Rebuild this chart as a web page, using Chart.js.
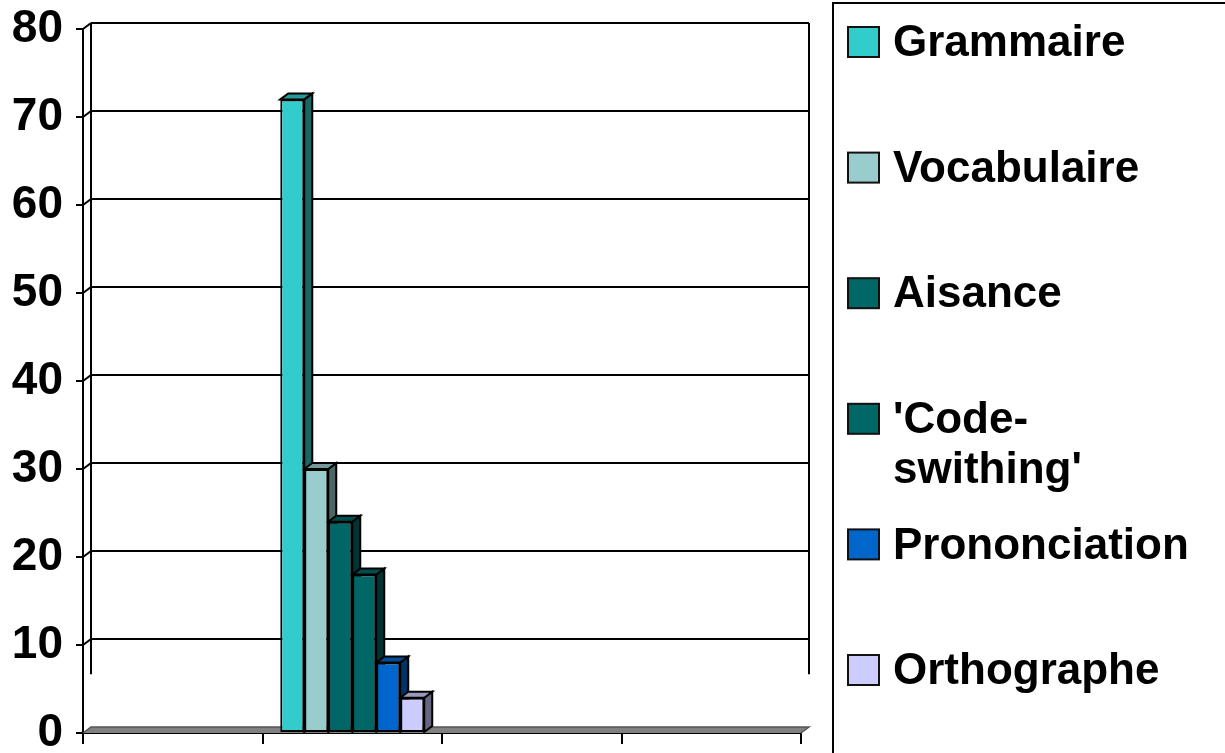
<!DOCTYPE html>
<html lang="fr">
<head>
<meta charset="utf-8">
<title>Difficultés</title>
<script src="https://cdn.jsdelivr.net/npm/chart.js@4/dist/chart.umd.min.js"></script>
<style>
  html, body { margin: 0; padding: 0; background: #fff; }
  canvas { display: block; }
</style>
</head>
<body>
<canvas id="chart" width="1225" height="753"></canvas>
<script>
// Category slots along the floor (only the second one carries values)
const categories = ['', '', '', ''];

// Series names and colours
const seriesLabels = ['Grammaire', 'Vocabulaire', 'Aisance', "'Code-swithing'", 'Prononciation', 'Orthographe'];
const seriesColors = ['#33CCCC', '#99CCCC', '#006666', '#006666', '#0066CC', '#CCCCFF'];

// Series values per category slot
const grammaire     = [null, 72, null, null];
const vocabulaire   = [null, 30, null, null];
const aisance       = [null, 24, null, null];
const codeSwithing  = [null, 18, null, null];
const prononciation = [null, 8,  null, null];
const orthographe   = [null, 4,  null, null];
const seriesValues  = [grammaire, vocabulaire, aisance, codeSwithing, prononciation, orthographe];

// Value axis
const yMin = 0, yMax = 80, yStep = 10;

const FONT = '"Liberation Sans", Arial, Helvetica, sans-serif';
const DX = 8, DY = 6;          // depth offset of the 3D box

function shade(hex, f) {
  const n = parseInt(hex.slice(1), 16);
  const r = Math.round(((n >> 16) & 255) * f);
  const g = Math.round(((n >> 8) & 255) * f);
  const b = Math.round((n & 255) * f);
  return `rgb(${r},${g},${b})`;
}

function poly(ctx, pts, fill, stroke, lw) {
  ctx.beginPath();
  ctx.moveTo(pts[0][0], pts[0][1]);
  for (let i = 1; i < pts.length; i++) ctx.lineTo(pts[i][0], pts[i][1]);
  ctx.closePath();
  if (fill) { ctx.fillStyle = fill; ctx.fill(); }
  if (stroke) { ctx.strokeStyle = stroke; ctx.lineWidth = lw; ctx.stroke(); }
}

// Back wall, floor and the 3D sides/tops of the columns
const box3d = {
  id: 'box3d',
  beforeDatasetsDraw(chart) {
    const { ctx, chartArea: a, scales: { y } } = chart;
    ctx.save();
    ctx.lineCap = 'butt';
    // gridlines on the back wall + short connectors from the front axis
    for (let v = yMin + yStep; v <= yMax; v += yStep) {
      const yy = y.getPixelForValue(v);
      ctx.strokeStyle = '#000';
      ctx.lineWidth = 2;
      ctx.beginPath();
      ctx.moveTo(a.left + DX, yy - DY);
      ctx.lineTo(a.right + DX, yy - DY);
      ctx.moveTo(a.left, yy);
      ctx.lineTo(a.left + DX, yy - DY);
      ctx.stroke();
    }
    // back wall edges
    const yTop = y.getPixelForValue(yMax) - DY;
    const yEnd = y.getPixelForValue(6) - DY;
    ctx.beginPath();
    ctx.moveTo(a.left + DX, yTop); ctx.lineTo(a.left + DX, yEnd);
    ctx.moveTo(a.right + DX, yTop); ctx.lineTo(a.right + DX, yEnd);
    ctx.stroke();
    // floor
    const y0 = y.getPixelForValue(yMin);
    poly(ctx, [[a.left, y0], [a.right, y0], [a.right + DX, y0 - DY], [a.left + DX, y0 - DY]], '#808080', null, 0);
    ctx.strokeStyle = '#555';
    ctx.lineWidth = 1.5;
    ctx.beginPath();
    ctx.moveTo(a.left, y0); ctx.lineTo(a.left + DX, y0 - DY);
    ctx.lineTo(a.right + DX, y0 - DY); ctx.lineTo(a.right, y0);
    ctx.stroke();
    // column sides and tops, in series order
    chart.data.datasets.forEach((ds, i) => {
      const meta = chart.getDatasetMeta(i);
      meta.data.forEach((el, j) => {
        if (ds.data[j] == null) return;
        const p = el.getProps(['x', 'y', 'base', 'width'], true);
        const l = p.x - p.width / 2, r = p.x + p.width / 2;
        poly(ctx, [[r, p.y], [r + DX, p.y - DY], [r + DX, p.base - DY], [r, p.base]], shade(ds.backgroundColor, 0.5), '#000', 2);
        poly(ctx, [[l, p.y], [l + DX, p.y - DY], [r + DX, p.y - DY], [r, p.y]], shade(ds.backgroundColor, 0.75), '#000', 2);
      });
    });
    ctx.restore();
  }
};

function wrapLabel(ctx, text, maxW) {
  if (ctx.measureText(text).width <= maxW) return [text];
  const k = text.indexOf('-');
  if (k < 0) return [text];
  return [text.slice(0, k + 1), text.slice(k + 1)];
}

// Legend box on the right
const sideLegend = {
  id: 'sideLegend',
  afterDraw(chart) {
    const { ctx } = chart;
    ctx.save();
    ctx.strokeStyle = '#000';
    ctx.lineWidth = 2;
    ctx.strokeRect(833, 3, 500, 800);
    ctx.font = `bold 44px ${FONT}`;
    ctx.textBaseline = 'middle';
    ctx.textAlign = 'left';
    chart.data.datasets.forEach((ds, i) => {
      const cy = 42 + i * 125.6;
      ctx.fillStyle = ds.backgroundColor;
      ctx.fillRect(848, cy - 15, 31, 30);
      ctx.lineWidth = 2;
      ctx.strokeStyle = '#111';
      ctx.strokeRect(848, cy - 15, 31, 30);
      ctx.fillStyle = '#000';
      wrapLabel(ctx, ds.label, 300).forEach((line, n) => {
        ctx.fillText(line, 893, cy + 2 + n * 50);
      });
    });
    ctx.restore();
  }
};

const datasets = seriesLabels.map((label, i) => ({
  label,
  data: seriesValues[i],
  backgroundColor: seriesColors[i],
  borderColor: '#000',
  borderWidth: 2,
  borderSkipped: false
}));

new Chart(document.getElementById('chart'), {
  type: 'bar',
  data: { labels: categories, datasets },
  options: {
    responsive: false,
    animation: false,
    devicePixelRatio: 1,
    layout: { padding: { top: 29, right: 424, bottom: 0, left: 0 } },
    datasets: { bar: { categoryPercentage: 0.802, barPercentage: 1 } },
    plugins: { legend: { display: false }, tooltip: { enabled: false } },
    scales: {
      x: {
        type: 'category',
        offset: true,
        grid: { offset: true, drawOnChartArea: false, drawTicks: true, tickLength: 11, color: '#000', lineWidth: 2 },
        border: { display: true, color: '#000', width: 2 },
        ticks: { display: false },
        afterFit(s) { s.height = 20; s.paddingLeft = 0; s.paddingRight = 0; }
      },
      y: {
        min: yMin,
        max: yMax,
        ticks: { stepSize: yStep, color: '#000', padding: 13, font: { family: FONT, size: 46, weight: 'bold' } },
        grid: { drawOnChartArea: false, drawTicks: true, tickLength: 7, color: '#000', lineWidth: 2 },
        border: { display: true, color: '#000', width: 2 },
        afterFit(s) { s.width = 83; s.paddingTop = 0; s.paddingBottom = 0; }
      }
    }
  },
  plugins: [box3d, sideLegend]
});
</script>
</body>
</html>
